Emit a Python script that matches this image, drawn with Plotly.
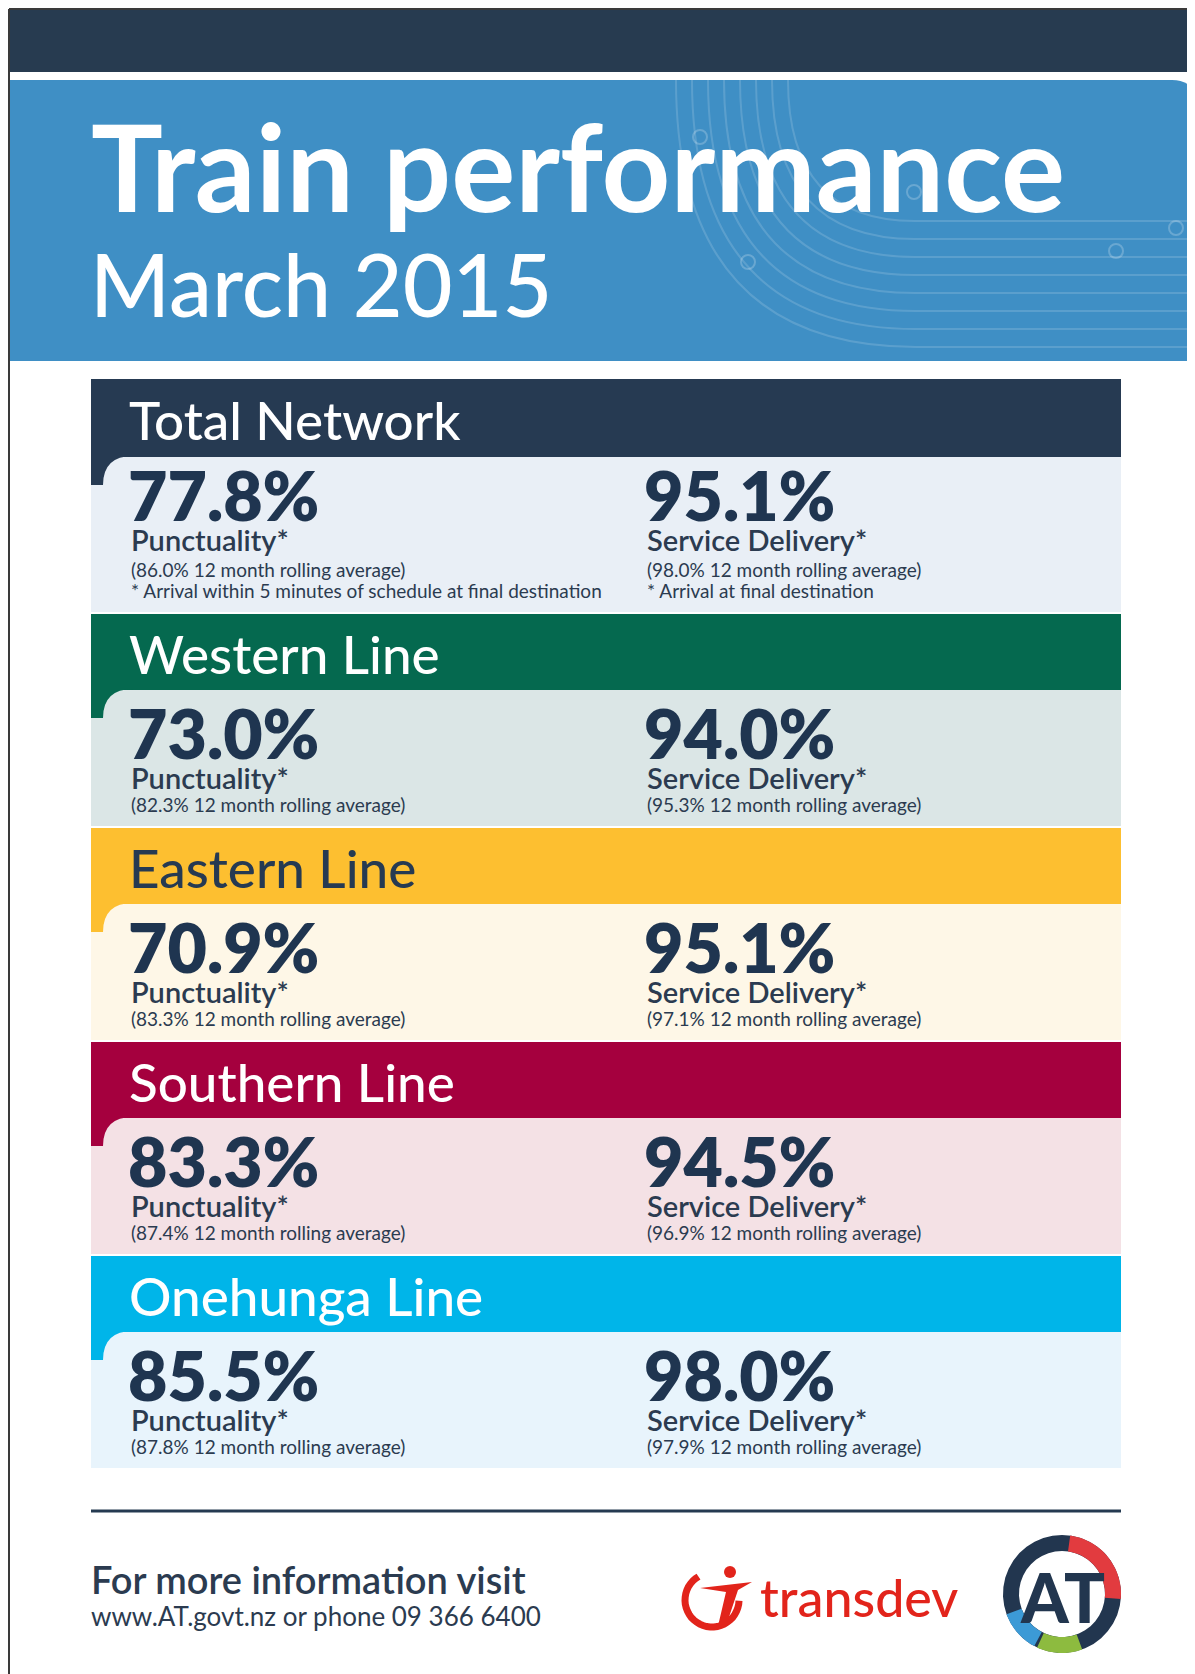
import plotly.graph_objects as go
import numpy as np

W, H = 1195, 1674
OFF = 8  # page margin of the html body; axes are shifted so data coords = page pixels

# ---------------- data ----------------
title = "Train performance"
period = "March 2015"
lines = ["Total Network", "Western Line", "Eastern Line", "Southern Line", "Onehunga Line"]
punctuality = [77.8, 73.0, 70.9, 83.3, 85.5]
punctuality_avg = [86.0, 82.3, 83.3, 87.4, 87.8]
service_delivery = [95.1, 94.0, 95.1, 94.5, 98.0]
service_delivery_avg = [98.0, 95.3, 97.1, 96.9, 97.9]
punctuality_notes = ["* Arrival within 5 minutes of schedule at final destination", "", "", "", ""]
service_notes = ["* Arrival at final destination", "", "", "", ""]
footer_lines = ["For more information visit", "www.AT.govt.nz or phone 09 366 6400"]

# ---------------- styles ----------------
header_colors = ["#263a52", "#05694f", "#fdbf30", "#a5003e", "#00b5e9"]
content_colors = ["#e9eff6", "#dbe6e6", "#fef7e7", "#f4e1e5", "#e8f4fc"]
title_colors = ["#ffffff", "#ffffff", "#263a52", "#ffffff", "#ffffff"]
NAVY = "#1f3550"
TEXT = "#2b3b50"
FONT = "Lato"

fig = go.Figure()
shapes = []
ann = []


def rect(x0, y0, x1, y1, color):
    shapes.append(dict(type="rect", xref="x", yref="y", x0=x0, y0=y0, x1=x1, y1=y1,
                       fillcolor=color, line=dict(width=0), layer="below"))


def text(x, y, s, size, color, weight=400, xanchor="left", family=FONT):
    ann.append(dict(x=x, y=y, xref="x", yref="y", text=s, showarrow=False,
                    xanchor=xanchor, yanchor="middle",
                    font=dict(family=family, size=size, color=color, weight=weight)))


def arc_points(cx, cy, r, a0, a1, n=40):
    a = np.radians(np.linspace(a0, a1, n))
    return cx + r * np.sin(a), cy - r * np.cos(a)


def ring_path(cx, cy, ro, ri, a0, a1):
    xo, yo = arc_points(cx, cy, ro, a0, a1)
    xi, yi = arc_points(cx, cy, ri, a1, a0)
    pts = list(zip(xo, yo)) + list(zip(xi, yi))
    return "M " + " L ".join(f"{x:.1f},{y:.1f}" for x, y in pts) + " Z"


# ---------------- poster frame / header ----------------
rect(10, 10, W + OFF, 72, "#273b50")
shapes.append(dict(type="line", xref="x", yref="y", x0=9, y0=9, x1=9, y1=H + OFF, line=dict(color="#3a3a3a", width=2)))
shapes.append(dict(type="line", xref="x", yref="y", x0=9, y0=9, x1=W + OFF, y1=9, line=dict(color="#3a3a3a", width=2)))
shapes.append(dict(type="path", xref="x", yref="y",
                   path="M 10,80 L 1172,80 Q 1195,80 1195,103 L 1195,361 L 10,361 Z",
                   fillcolor="#3f8fc5", line=dict(width=0), layer="below"))

# decorative track lines in the header
for i in range(8):
    x0 = 676 + 16 * i
    y1 = 347 - 18 * i
    x_end = x0 + (y1 - 80) * 0.9
    shapes.append(dict(type="path", xref="x", yref="y",
                       path=f"M {x0},80 Q {x0},{y1} {x_end:.1f},{y1} L 1195,{y1}",
                       line=dict(color="rgba(255,255,255,0.15)", width=2), layer="below"))
for cx, cy in [(700, 137), (748, 262), (914, 192), (1116, 251), (1176, 228)]:
    shapes.append(dict(type="circle", xref="x", yref="y", x0=cx - 7, y0=cy - 7, x1=cx + 7, y1=cy + 7,
                       line=dict(color="rgba(255,255,255,0.22)", width=2), layer="below"))

text(89, 166, title, 120, "#ffffff", weight=700)
text(88, 283, period, 86, "#ffffff", weight=500)

# ---------------- sections ----------------
X0, X1 = 91, 1121
top = 379
for i, name in enumerate(lines):
    hh = 78 if i == 0 else 76
    ch = 155 if punctuality_notes[i] else 136
    dy = -3 if punctuality_notes[i] else 0
    hb = top + hh
    rect(X0, top, X1, hb, header_colors[i])
    rect(X0, hb, X1, hb + ch, content_colors[i])
    # tab with rounded corner
    shapes.append(dict(type="path", xref="x", yref="y",
                       path=f"M {X0},{hb - 1} L {X0 + 42},{hb - 1} Q {X0 + 12},{hb - 1} {X0 + 12},{hb + 28} L {X0},{hb + 28} Z",
                       fillcolor=header_colors[i], line=dict(width=0), layer="below"))
    text(127, top + hh / 2 + 1, name, 53, title_colors[i], weight=500)

    text(126, top + 118 + dy, f"{punctuality[i]:.1f}%", 68, NAVY, weight=800)
    text(129, top + 163 + dy, "Punctuality*", 29, TEXT, weight=600)
    text(129, top + 190, f"({punctuality_avg[i]:.1f}% 12 month rolling average)", 19, TEXT, weight=400)

    text(642, top + 118 + dy, f"{service_delivery[i]:.1f}%", 68, NAVY, weight=800)
    text(645, top + 163 + dy, "Service Delivery*", 29, TEXT, weight=600)
    text(645, top + 190, f"({service_delivery_avg[i]:.1f}% 12 month rolling average)", 19, TEXT, weight=400)

    if punctuality_notes[i]:
        text(129, top + 211, punctuality_notes[i], 19, TEXT)
    if service_notes[i]:
        text(645, top + 211, service_notes[i], 19, TEXT)
    top = hb + ch + 2

# ---------------- footer ----------------
shapes.append(dict(type="line", xref="x", yref="y", x0=X0, y0=1511, x1=X1, y1=1511,
                   line=dict(color="#253a51", width=3)))
text(89, 1579, footer_lines[0], 38, TEXT, weight=600)
text(89, 1616, footer_lines[1], 26, TEXT, weight=400)

# transdev logo
RED = "#e2241b"
ax, ay = arc_points(712, 1600, 27, 30, 330)
shapes.append(dict(type="path", xref="x", yref="y",
                   path="M " + " L ".join(f"{x:.1f},{y:.1f}" for x, y in zip(ax[8:], ay[8:])),
                   line=dict(color=RED, width=7)))
shapes.append(dict(type="circle", xref="x", yref="y", x0=724, y0=1566, x1=736, y1=1578,
                   fillcolor=RED, line=dict(width=0)))
shapes.append(dict(type="path", xref="x", yref="y",
                   path="M 700,1588 L 752,1582 L 738,1590 L 726,1626 L 718,1626 L 726,1592 Z",
                   fillcolor=RED, line=dict(width=0)))
text(758, 1597, "transdev", 52, RED, weight=500)

# AT logo
cx, cy = 1062, 1594
shapes.append(dict(type="path", xref="x", yref="y", path=ring_path(cx, cy, 59, 43, 0, 360),
                   fillcolor="#22364f", line=dict(width=0)))
for a0, a1, col in [(8, 95, "#e23b3f"), (160, 205, "#8dbb3f"), (208, 250, "#3c9ad6")]:
    shapes.append(dict(type="path", xref="x", yref="y", path=ring_path(cx, cy, 59, 43, a0, a1),
                       fillcolor=col, line=dict(width=0)))
text(cx, cy + 2, "AT", 68, "#22364f", weight=900, xanchor="center")

fig.update_layout(
    width=W, height=H,
    margin=dict(l=0, r=0, t=0, b=0),
    paper_bgcolor="#ffffff", plot_bgcolor="#ffffff",
    xaxis=dict(range=[OFF, W + OFF], visible=False, fixedrange=True),
    yaxis=dict(range=[H + OFF, OFF], visible=False, fixedrange=True),
    shapes=shapes, annotations=ann, showlegend=False,
)
fig.write_html("out.html")
